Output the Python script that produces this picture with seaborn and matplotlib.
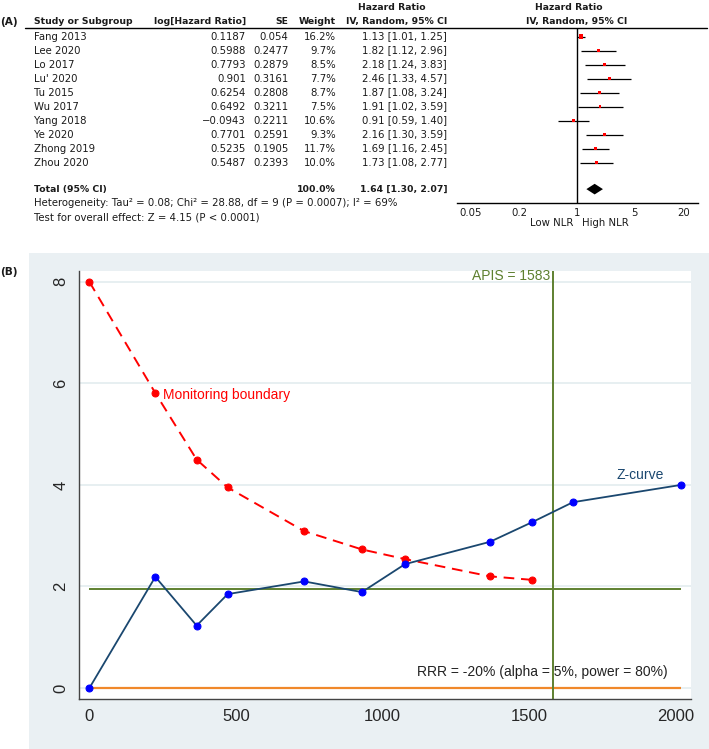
import numpy as np
import pandas as pd
import matplotlib.pyplot as plt
import seaborn as sns
from matplotlib.patches import Rectangle, Polygon

# ---- Panel A data (forest plot) ----
studies = ['Fang 2013', 'Lee 2020', 'Lo 2017', "Lu' 2020", 'Tu 2015', 'Wu 2017',
           'Yang 2018', 'Ye 2020', 'Zhong 2019', 'Zhou 2020']
log_hr = ['0.1187', '0.5988', '0.7793', '0.901', '0.6254', '0.6492',
          '\u22120.0943', '0.7701', '0.5235', '0.5487']
se = ['0.054', '0.2477', '0.2879', '0.3161', '0.2808', '0.3211',
      '0.2211', '0.2591', '0.1905', '0.2393']
weight = [16.2, 9.7, 8.5, 7.7, 8.7, 7.5, 10.6, 9.3, 11.7, 10.0]
hr = [1.13, 1.82, 2.18, 2.46, 1.87, 1.91, 0.91, 2.16, 1.69, 1.73]
hr_lo = [1.01, 1.12, 1.24, 1.33, 1.08, 1.02, 0.59, 1.30, 1.16, 1.08]
hr_hi = [1.25, 2.96, 3.83, 4.57, 3.24, 3.59, 1.40, 3.59, 2.45, 2.77]
total_hr, total_lo, total_hi = 1.64, 1.30, 2.07
forest_ticks = [0.05, 0.2, 1, 5, 20]

# ---- Panel B data (trial sequential analysis) ----
info = [0, 225, 366, 472, 733, 930, 1077, 1367, 1512, 1650, 2018]
z_curve = [0, 2.19, 1.23, 1.85, 2.10, 1.89, 2.44, 2.88, 3.27, 3.66, 4.00]
bound_info = [0, 225, 366, 472, 733, 930, 1077, 1367, 1512]
boundary = [8.0, 5.81, 4.50, 3.95, 3.09, 2.73, 2.54, 2.20, 2.13]
apis = 1583
z_crit = 1.96

sns.set_style('white')
plt.rcParams['font.family'] = ['DejaVu Sans']

W, H = 709, 749
fig = plt.figure(figsize=(W / 100, H / 100), dpi=100)

# overlay axes in pixel coordinates for the table text
ov = fig.add_axes([0, 0, 1, 1], zorder=0)
ov.set_xlim(0, W)
ov.set_ylim(H, 0)
ov.axis('off')
ov.patch.set_alpha(0)

# grey background of panel B
ov.add_patch(Rectangle((29, 253), W - 29, H - 253, color='#eaf0f3', lw=0, zorder=0))

fs = 7.3
txt = '#1a1a1a'
row_y = lambda i: 36.5 + 14.0 * i
bold = dict(fontsize=6.7, fontweight='bold', va='center', color=txt)
reg = dict(fontsize=fs, va='center', color=txt)

ov.text(0, 21.7, '(A)', fontsize=7.6, fontweight='bold', va='center', color=txt)
ov.text(33.7, 21.7, 'Study or Subgroup', **bold)
ov.text(246, 21.7, 'log[Hazard Ratio]', ha='right', **bold)
ov.text(288.7, 21.7, 'SE', ha='right', **bold)
ov.text(336, 21.7, 'Weight', ha='right', **bold)
ov.text(392, 7.3, 'Hazard Ratio', ha='center', **bold)
ov.text(447, 21.7, 'IV, Random, 95% CI', ha='right', **bold)
ov.text(569, 7.3, 'Hazard Ratio', ha='center', **bold)
ov.text(576.5, 21.7, 'IV, Random, 95% CI', ha='center', **bold)
ov.plot([25, 707], [27.7, 27.7], color='black', lw=1)

for i, name in enumerate(studies):
    y = row_y(i)
    ov.text(33.7, y, name, **reg)
    ov.text(246, y, log_hr[i], ha='right', **reg)
    ov.text(288.7, y, se[i], ha='right', **reg)
    ov.text(336, y, f'{weight[i]:.1f}%', ha='right', **reg)
    ov.text(447, y, f'{hr[i]:.2f} [{hr_lo[i]:.2f}, {hr_hi[i]:.2f}]', ha='right', **reg)

ty = 189.3
ov.text(33.7, ty, 'Total (95% CI)', **bold)
ov.text(336, ty, '100.0%', ha='right', **bold)
ov.text(447, ty, f'{total_hr:.2f} [{total_lo:.2f}, {total_hi:.2f}]', ha='right', **bold)
ov.text(33.7, 203.3, 'Heterogeneity: Tau\u00b2 = 0.08; Chi\u00b2 = 28.88, df = 9 (P = 0.0007); I\u00b2 = 69%', **reg)
ov.text(33.7, 217.3, 'Test for overall effect: Z = 4.15 (P < 0.0001)', **reg)
ov.text(573, 223.3, 'Low NLR', ha='right', **reg)
ov.text(582, 223.3, 'High NLR', ha='left', **reg)
ov.text(0, 271.7, '(B)', fontsize=7.6, fontweight='bold', va='center', color=txt)

# forest plot axes
fa = fig.add_axes([456.7 / W, 1 - 202.7 / H, 241.6 / W, 175 / H], zorder=1)
fa.patch.set_alpha(0)
fa.set_xscale('log')
fa.set_xlim(0.0341, 30.1)
rows = np.arange(len(studies))
fa.set_ylim(11.87, -0.63)
fa.hlines(rows, hr_lo, hr_hi, color='black', lw=0.9)
sns.scatterplot(x=hr, y=rows, size=weight, sizes=(7.5 * 0.55, 16.2 * 0.55),
                marker='s', color='red', linewidth=0, legend=False, ax=fa, zorder=3)
t_row = 10.9
fa.add_patch(Polygon([(total_lo, t_row), (total_hr, t_row - 0.38),
                      (total_hi, t_row), (total_hr, t_row + 0.38)],
                     closed=True, color='black', lw=0))
fa.axvline(1, color='black', lw=1)
for s in ['top', 'right', 'left']:
    fa.spines[s].set_visible(False)
fa.spines['bottom'].set_color('black')
fa.spines['bottom'].set_linewidth(1)
fa.set_yticks([])
fa.set_xticks(forest_ticks)
fa.set_xticklabels([str(t) for t in forest_ticks])
fa.minorticks_off()
fa.tick_params(axis='x', direction='inout', length=5, width=0.8, labelsize=fs,
               pad=1, color='black', labelcolor=txt)

# ---- Panel B ----
green = '#5e8030'
axB = fig.add_axes([78.7 / W, 50.3 / H, 612 / W, 428 / H], zorder=1)
axB.set_facecolor('white')
axB.set_xlim(-36.5, 2052)
axB.set_ylim(-0.21, 8.22)
axB.set_axisbelow(True)
axB.yaxis.grid(True, color='#e3ecef', lw=1.2)
axB.xaxis.grid(False)

axB.hlines(0, 0, info[-1], color='#f0882a', lw=1.6, zorder=2)
axB.hlines(z_crit, 0, info[-1], color=green, lw=1.4, zorder=2)
axB.axvline(apis, color=green, lw=1.4, zorder=2)

sns.lineplot(x=bound_info, y=boundary, ax=axB, sort=False, color='red',
             linestyle=(0, (5.5, 3.5)), lw=1.4, marker='o', markersize=5,
             markerfacecolor='red', markeredgecolor='red', zorder=3)
sns.lineplot(x=info, y=z_curve, ax=axB, sort=False, color='#1a476f', lw=1.3,
             marker='o', markersize=5, markerfacecolor='#0000ff',
             markeredgecolor='#0000ff', zorder=4)

tf = dict(family=['Liberation Sans', 'DejaVu Sans'], fontsize=10)
axB.text(252, 5.77, 'Monitoring boundary', color='red', va='center', **tf)
axB.text(1880, 4.20, 'Z-curve', color='#1a476f', ha='center', va='center', **tf)
axB.text(1972, 0.32, 'RRR = -20% (alpha = 5%, power = 80%)', color='#222222',
         ha='right', va='center', zorder=1, **tf)
axB.text(apis - 12, 8.12, f'APIS = {apis}', color=green, ha='right', va='center', **tf)

axB.set_xticks([0, 500, 1000, 1500, 2000])
axB.set_yticks([0, 2, 4, 6, 8])
for s in ['top', 'right']:
    axB.spines[s].set_visible(False)
for s in ['left', 'bottom']:
    axB.spines[s].set_color('#444444')
    axB.spines[s].set_linewidth(1)
axB.tick_params(axis='both', length=4.3, width=1, color='#444444', pad=3, labelsize=12)
axB.tick_params(axis='y', labelrotation=90)
for lab in axB.get_xticklabels() + axB.get_yticklabels():
    lab.set_family(['Liberation Sans', 'DejaVu Sans'])
for lab in axB.get_yticklabels():
    lab.set_va('center')
axB.set_xlabel('')
axB.set_ylabel('')

fig.savefig('out.png', dpi=100)
